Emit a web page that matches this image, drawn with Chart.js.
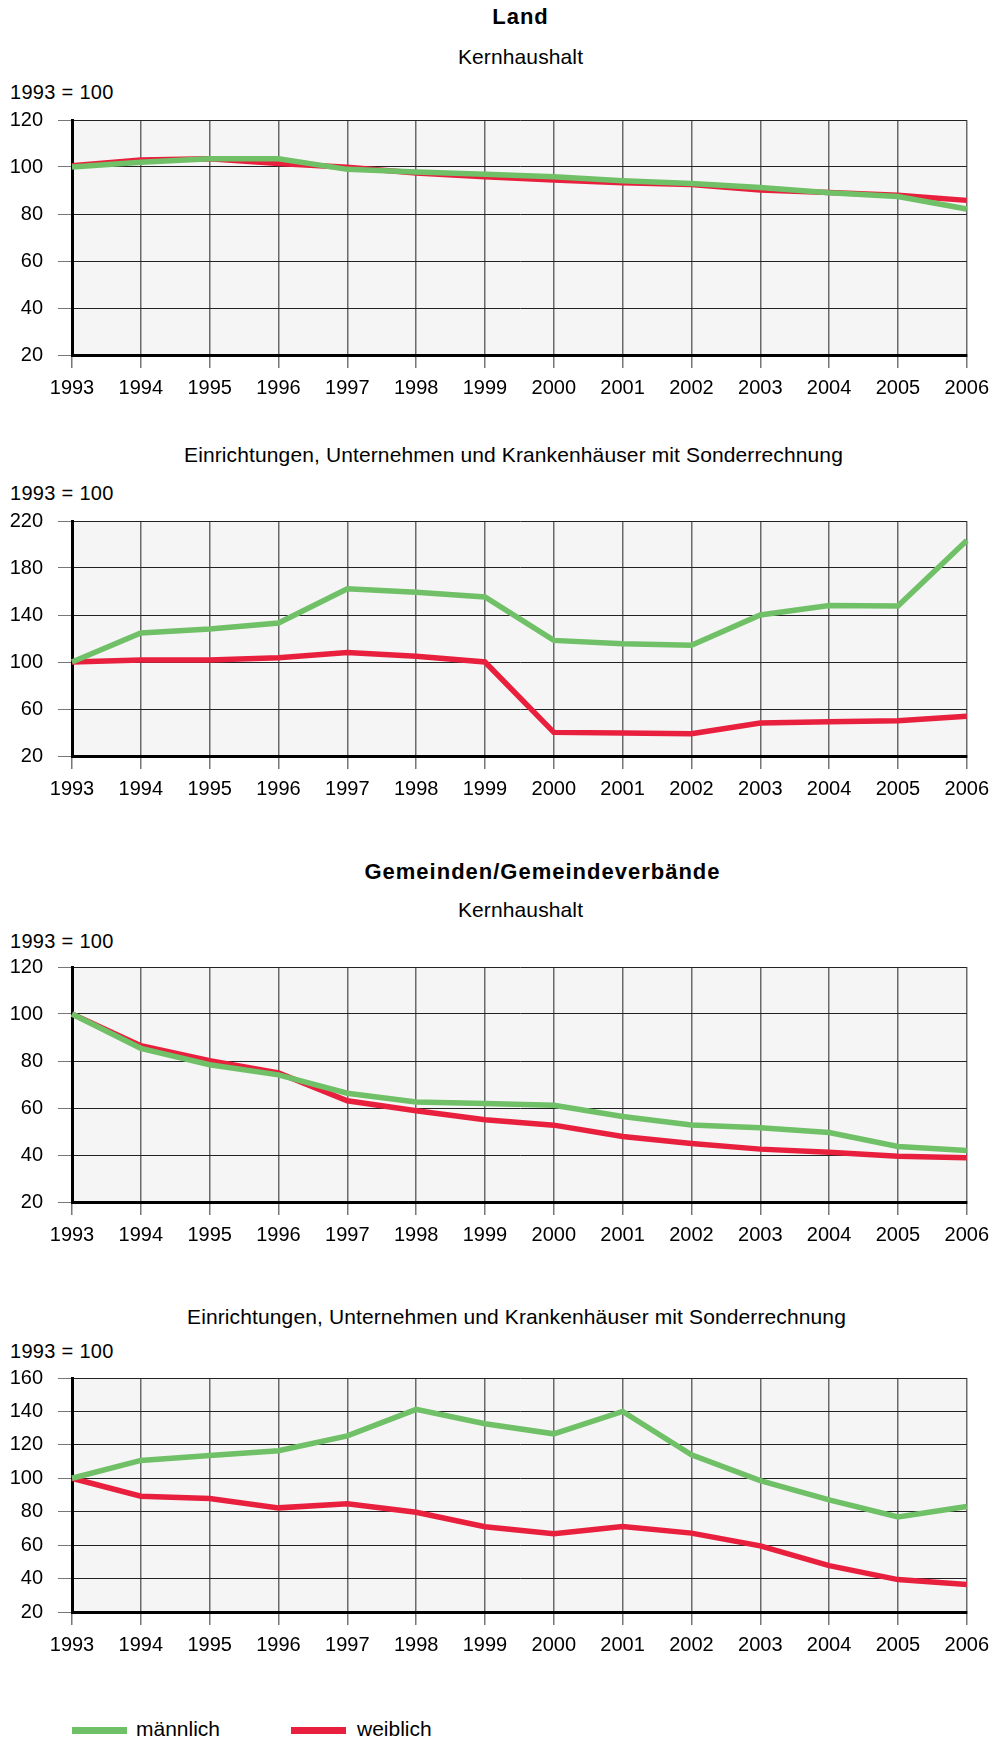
<!DOCTYPE html>
<html lang="de">
<head>
<meta charset="utf-8">
<title>Personal 1993 = 100</title>
<script src="https://cdn.jsdelivr.net/npm/chart.js@4.4.1/dist/chart.umd.min.js"></script>
<style>
    body {
        margin: 0;
        width: 997px;
        height: 1737px;
        position: relative;
        overflow: hidden;
        background: #fff;
        color: #000;
        font-family: "Liberation Sans", Arial, sans-serif;
    }
    .txt { position: absolute; white-space: nowrap; line-height: 24px; height: 24px; }
    .center { left: 72px; width: 897px; text-align: center; }
    .title { font-weight: bold; font-size: 22px; letter-spacing: 1px; }
    .sub { font-size: 21px; letter-spacing: 0.12px; }
    .unit { left: 10px; font-size: 20px; letter-spacing: 0.3px; }
    .box { position: absolute; left: 0; width: 997px; }
    .legend-line { position: absolute; width: 55px; height: 7px; }
    .legend-text { position: absolute; font-size: 21px; line-height: 24px; white-space: nowrap; }
</style>
</head>
<body>

<div class="txt center title" style="top:5px">Land</div>
<div class="txt center sub" style="top:45px">Kernhaushalt</div>
<div class="txt unit" style="top:80px">1993 = 100</div>
<div class="box" style="top:105px;height:300px"><canvas id="chartLandKern"></canvas></div>

<div class="txt center sub" style="top:443px;left:65px">Einrichtungen, Unternehmen und Krankenhäuser mit Sonderrechnung</div>
<div class="txt unit" style="top:481px">1993 = 100</div>
<div class="box" style="top:506px;height:300px"><canvas id="chartLandSonder"></canvas></div>

<div class="txt center title" style="top:860px;left:94px">Gemeinden/Gemeindeverbände</div>
<div class="txt center sub" style="top:898px">Kernhaushalt</div>
<div class="txt unit" style="top:929px">1993 = 100</div>
<div class="box" style="top:952px;height:300px"><canvas id="chartGemKern"></canvas></div>

<div class="txt center sub" style="top:1305px;left:68px">Einrichtungen, Unternehmen und Krankenhäuser mit Sonderrechnung</div>
<div class="txt unit" style="top:1339px">1993 = 100</div>
<div class="box" style="top:1363px;height:299px"><canvas id="chartGemSonder"></canvas></div>

<div class="legend-line" style="left:72px;top:1727px;background:#6fc066"></div>
<div class="legend-text" style="left:136px;top:1717px">männlich</div>
<div class="legend-line" style="left:291px;top:1727px;background:#e8203e"></div>
<div class="legend-text" style="left:357px;top:1717px">weiblich</div>

<script>
// --- 1. DATEN ---
const years = ['1993', '1994', '1995', '1996', '1997', '1998', '1999',
               '2000', '2001', '2002', '2003', '2004', '2005', '2006'];
const seriesNames = ['männlich', 'weiblich'];

// Land, Kernhaushalt
const landKernMaennlich = [100, 102, 103.5, 103.5, 99, 97.9, 96.9, 95.9, 94.2, 93, 91.3, 89, 87.4, 82.1];
const landKernWeiblich  = [100.5, 103, 103.5, 101.5, 99.9, 97.4, 95.9, 94.5, 93.3, 92.6, 90.2, 89.2, 88, 85.8];
const landKernTicks = [20, 40, 60, 80, 100, 120];

// Land, Einrichtungen mit Sonderrechnung
const landSonderMaennlich = [100, 124.7, 128, 133.2, 162.4, 159.3, 155.3, 118.4, 115.6, 114.2, 140, 148, 147.7, 203.5];
const landSonderWeiblich  = [100, 101.7, 101.7, 103.7, 108, 104.8, 100, 40.1, 39.6, 39, 48.1, 49.2, 50, 53.8];
const landSonderTicks = [20, 60, 100, 140, 180, 220];

// Gemeinden/Gemeindeverbaende, Kernhaushalt
const gemKernMaennlich = [100, 85.4, 78.4, 74.1, 66.3, 62.6, 61.9, 61.2, 56.4, 52.8, 51.6, 49.6, 43.6, 41.9];
const gemKernWeiblich  = [100, 86.5, 80.1, 74.9, 63.1, 58.8, 55, 52.7, 47.9, 44.9, 42.5, 41.2, 39.5, 38.8];
const gemKernTicks = [20, 40, 60, 80, 100, 120];

// Gemeinden/Gemeindeverbaende, Einrichtungen mit Sonderrechnung
const gemSonderMaennlich = [100, 110.7, 113.7, 116.5, 125.4, 141.2, 132.6, 126.6, 140, 114.1, 98.6, 87.1, 76.9, 83.1];
const gemSonderWeiblich  = [100, 89.3, 87.9, 82.3, 84.7, 79.7, 71, 66.8, 71.2, 67.2, 59.6, 47.7, 39.4, 36.4];
const gemSonderTicks = [20, 40, 60, 80, 100, 120, 140, 160];

// --- 2. STIL ---
const GREEN = '#6fc066';
const RED = '#e8203e';
const FONT = '"Liberation Sans", Arial, sans-serif';

// grauer Hintergrund nur in der Zeichenflaeche
const plotBackground = {
    id: 'plotBackground',
    beforeDraw(chart) {
        const { ctx, chartArea } = chart;
        ctx.save();
        ctx.fillStyle = '#f5f5f5';
        ctx.fillRect(chartArea.left, chartArea.top, chartArea.width, chartArea.height);
        ctx.restore();
    }
};

// --- 3. DIAGRAMM ---
function makeChart(canvasId, maennlich, weiblich, yTicks) {
    const ctx = document.getElementById(canvasId).getContext('2d');
    return new Chart(ctx, {
        type: 'line',
        data: {
            labels: years,
            datasets: [{
                label: seriesNames[0],
                data: maennlich,
                borderColor: GREEN,
                borderWidth: 5.5,
                pointRadius: 0,
                tension: 0
            }, {
                label: seriesNames[1],
                data: weiblich,
                borderColor: RED,
                borderWidth: 5.5,
                pointRadius: 0,
                tension: 0
            }]
        },
        options: {
            responsive: true,
            maintainAspectRatio: false,
            animation: false,
            layout: { padding: { left: 0, right: 28, top: 15, bottom: 0 } },
            plugins: {
                legend: { display: false },
                tooltip: { enabled: false }
            },
            scales: {
                x: {
                    offset: false,
                    afterFit: (scale) => { scale.height = 50; },
                    grid: { color: '#6a6a6a', lineWidth: 1.5, tickLength: 13, tickColor: '#777' },
                    border: { display: true, color: '#000', width: 3 },
                    ticks: { color: '#000', font: { family: FONT, size: 20 }, padding: 8, maxRotation: 0, autoSkip: false }
                },
                y: {
                    min: yTicks[0],
                    max: yTicks[yTicks.length - 1],
                    afterFit: (scale) => {
                        scale.width = 72;
                        // die Beschriftung darf ueber den Rand hinausragen
                        scale.paddingTop = 0;
                        scale.paddingBottom = 0;
                    },
                    afterBuildTicks: (scale) => { scale.ticks = yTicks.map(v => ({ value: v })); },
                    grid: { color: '#222', lineWidth: 1, tickLength: 14, tickColor: '#777' },
                    border: { display: true, color: '#000', width: 3 },
                    ticks: { color: '#000', font: { family: FONT, size: 20 }, padding: 15 }
                }
            }
        },
        plugins: [plotBackground]
    });
}

// --- 4. START ---
makeChart('chartLandKern', landKernMaennlich, landKernWeiblich, landKernTicks);
makeChart('chartLandSonder', landSonderMaennlich, landSonderWeiblich, landSonderTicks);
makeChart('chartGemKern', gemKernMaennlich, gemKernWeiblich, gemKernTicks);
makeChart('chartGemSonder', gemSonderMaennlich, gemSonderWeiblich, gemSonderTicks);
</script>
</body>
</html>
